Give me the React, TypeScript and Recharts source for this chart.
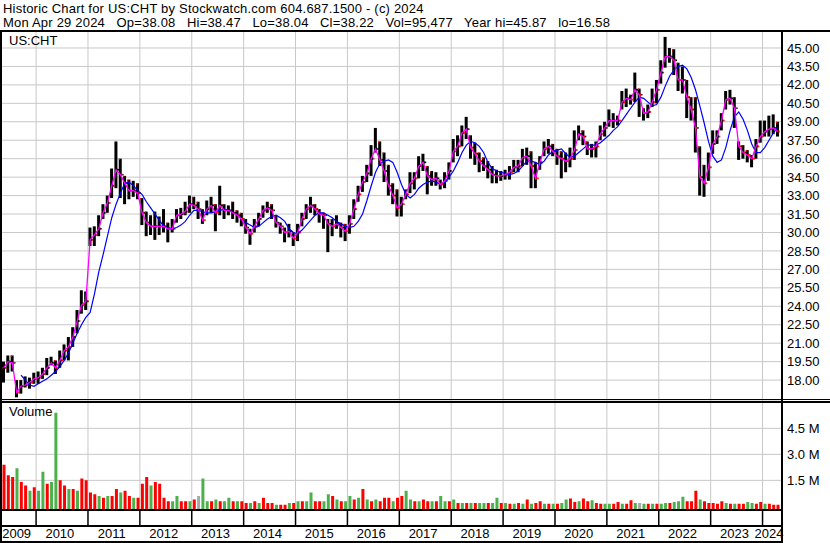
import { ComposedChart, Bar, Line, XAxis, YAxis, CartesianGrid, Cell } from "recharts";

// one bar per month, May 2009 .. Apr 2024
const years = [2009, 2010, 2011, 2012, 2013, 2014, 2015, 2016, 2017, 2018, 2019, 2020, 2021, 2022, 2023, 2024];
const yearStarts = [8, 20, 32, 44, 56, 68, 80, 92, 104, 116, 128, 140, 152, 164, 176];
const yearLabelAt = [3.5, 13.5, 25.5, 37.5, 49.5, 61.5, 73.5, 85.5, 97.5, 109.5, 121.5, 133.5, 145.5, 157.5, 169.5, 177.5];
const priceTicks = [18, 19.5, 21, 22.5, 24, 25.5, 27, 28.5, 30, 31.5, 33, 34.5, 36, 37.5, 39, 40.5, 42, 43.5, 45];
const volTicks = [1.5, 3, 4.5];

const high = [
  19.5, 20.0, 20.0, 18.0, 18.0, 18.3, 18.2, 18.6,
  18.7, 19.0, 19.8, 19.9, 19.6, 20.4, 20.9, 21.5, 22.3, 23.7, 25.3, 25.2,
  30.4, 30.5, 31.4, 32.3, 33.0, 35.2, 37.4, 36.0, 34.6, 34.3, 34.2, 34.0,
  32.8, 31.7, 31.4, 31.7, 31.3, 31.9, 30.8, 31.1, 31.9, 32.0, 32.5, 33.0,
  32.9, 32.5, 31.9, 32.6, 32.9, 32.3, 33.8, 32.3, 32.2, 32.5, 31.8, 31.6,
  31.1, 30.3, 31.1, 31.6, 32.2, 32.5, 32.3, 31.4, 30.8, 30.4, 30.7, 30.0,
  30.7, 31.6, 32.3, 32.9, 32.3, 31.9, 31.6, 31.1, 31.1, 31.4, 30.8, 30.7,
  31.4, 32.7, 33.8, 34.6, 35.5, 37.1, 38.5, 37.4, 36.5, 35.5, 34.0, 33.5,
  32.9, 33.5, 34.9, 34.9, 36.2, 36.4, 35.4, 35.0, 34.9, 34.3, 34.9, 35.7,
  37.6, 37.9, 38.7, 39.4, 37.9, 37.3, 36.5, 36.1, 35.8, 35.4, 35.1, 35.0,
  35.1, 35.4, 35.9, 35.9, 36.8, 36.9, 36.6, 35.7, 36.2, 37.4, 37.6, 37.2,
  36.8, 36.6, 36.5, 36.9, 38.3, 38.7, 38.3, 37.4, 37.2, 37.4, 38.7, 39.0,
  40.0, 39.7, 39.5, 41.5, 41.7, 41.2, 43.0, 41.7, 40.1, 40.4, 41.7, 42.4,
  44.0, 45.9, 45.0, 44.9, 43.8, 43.5, 42.4, 41.0, 41.0, 37.0, 35.5, 36.5,
  38.3, 38.3, 39.7, 41.5, 41.6, 41.0, 37.4, 37.1, 36.7, 36.3, 37.6, 39.1,
  39.1, 39.5, 39.6, 39.0,
];

const low = [
  17.8, 18.6, 18.7, 16.6, 16.9, 17.4, 17.3, 17.7,
  17.7, 18.1, 18.4, 19.2, 18.5, 19.0, 19.6, 19.6, 20.7, 21.8, 23.4, 23.7,
  28.9, 28.9, 29.7, 31.1, 31.6, 32.8, 33.6, 32.8, 32.3, 32.7, 32.9, 32.7,
  30.6, 29.7, 29.8, 29.4, 29.8, 30.0, 29.2, 30.0, 30.8, 31.1, 31.4, 31.6,
  31.9, 31.1, 30.7, 31.4, 31.6, 30.1, 31.4, 31.1, 31.4, 31.1, 30.8, 30.5,
  29.9, 29.0, 30.0, 30.5, 31.2, 31.6, 31.1, 30.4, 29.9, 29.2, 29.6, 28.9,
  29.3, 30.5, 31.1, 31.6, 31.4, 30.8, 30.3, 28.4, 29.7, 30.3, 29.6, 29.3,
  29.9, 31.1, 32.5, 33.3, 34.1, 34.6, 36.5, 35.4, 34.1, 33.0, 32.3, 31.3,
  31.3, 32.7, 33.2, 33.5, 34.4, 35.0, 33.1, 33.8, 33.8, 33.5, 33.6, 34.3,
  35.7, 36.2, 37.0, 37.6, 36.0, 35.5, 34.9, 35.0, 34.4, 34.0, 34.0, 34.2,
  34.3, 34.3, 34.9, 34.9, 35.4, 35.5, 33.6, 33.6, 35.1, 36.2, 36.4, 36.2,
  35.5, 34.4, 34.9, 35.3, 35.9, 37.5, 37.1, 36.3, 36.1, 36.1, 37.5, 37.8,
  38.6, 38.5, 38.7, 40.0, 40.2, 40.4, 40.6, 39.4, 39.1, 39.3, 40.2, 40.5,
  42.1, 43.4, 43.8, 42.8, 41.5, 41.3, 39.3, 39.1, 36.5, 33.0, 32.9, 34.2,
  36.4, 37.2, 38.3, 40.0, 40.4, 38.5, 35.9, 36.0, 35.7, 35.3, 36.0, 37.3,
  37.8, 37.8, 38.0, 37.8,
];

// monthly close, follows the magenta short average
const close = [
  19.0, 19.5, 19.4, 17.0, 17.5, 17.6, 17.8, 18.1,
  18.2, 18.5, 19.0, 19.4, 19.0, 19.6, 20.4, 20.7, 21.5, 22.8, 24.1, 24.4,
  29.4, 29.8, 30.3, 31.6, 32.4, 33.8, 35.1, 34.7, 34.0, 33.4, 33.4, 33.2,
  31.6, 30.8, 30.5, 30.5, 30.5, 30.5, 30.3, 30.3, 31.4, 31.5, 31.7, 32.3,
  32.2, 31.9, 31.0, 31.9, 32.2, 31.6, 32.2, 31.8, 31.8, 31.6, 31.4, 31.1,
  30.4, 29.9, 30.5, 31.1, 31.8, 32.0, 31.8, 30.8, 30.5, 30.0, 30.1, 29.5,
  30.0, 31.1, 31.9, 32.2, 31.9, 31.5, 31.4, 30.7, 30.5, 30.7, 30.4, 30.1,
  30.7, 31.9, 33.1, 34.1, 34.8, 36.0, 36.8, 35.9, 35.0, 33.8, 33.0, 32.0,
  32.3, 33.1, 34.0, 34.4, 35.4, 35.7, 34.6, 34.3, 34.4, 33.9, 34.2, 35.0,
  36.6, 37.0, 38.1, 38.4, 36.9, 36.4, 35.8, 35.4, 35.1, 34.7, 34.6, 34.6,
  34.7, 34.9, 35.3, 35.4, 36.1, 36.2, 35.4, 34.4, 35.7, 36.8, 37.0, 36.6,
  36.2, 36.0, 35.8, 36.0, 36.7, 38.0, 37.8, 36.8, 36.8, 37.0, 38.0, 38.5,
  39.1, 39.1, 39.1, 40.6, 40.9, 40.8, 41.6, 41.2, 39.7, 39.8, 40.6, 41.6,
  43.0, 44.3, 44.3, 44.0, 42.4, 42.4, 41.0, 40.0, 38.5, 34.5, 34.0, 35.3,
  37.2, 37.8, 39.1, 40.8, 40.9, 40.1, 37.0, 36.5, 36.3, 36.0, 37.0, 37.8,
  38.2, 38.4, 38.5, 38.2,
];

// blue long average
const longAvg = [
  null, null, null, null, 18.4, 18.0, 17.6, 17.5,
  17.7, 17.9, 18.1, 18.4, 18.7, 19.1, 19.6, 20.2, 21.0, 21.8, 22.5, 23.1,
  23.5, 25.0, 26.8, 28.2, 29.7, 31.2, 32.3, 33.2, 34.0, 34.1, 33.8, 33.4,
  33.1, 32.5, 32.0, 31.5, 31.0, 30.5, 30.4, 30.3, 30.4, 30.6, 30.9, 31.4,
  31.8, 31.8, 31.7, 31.6, 31.6, 31.7, 31.8, 31.9, 31.8, 31.6, 31.5, 31.1,
  30.8, 30.6, 30.4, 30.5, 30.8, 31.1, 31.3, 31.4, 31.2, 30.9, 30.3, 30.0,
  29.9, 30.2, 30.6, 31.0, 31.4, 31.6, 31.6, 31.4, 31.2, 30.9, 30.7, 30.5,
  30.4, 30.5, 30.9, 31.5, 32.6, 33.8, 34.9, 35.6, 35.8, 35.9, 35.7, 34.9,
  33.9, 33.1, 32.8, 33.1, 33.6, 33.9, 34.1, 34.2, 34.1, 33.9, 34.1, 34.5,
  35.0, 35.7, 36.5, 37.1, 37.4, 37.3, 37.0, 36.5, 35.7, 35.2, 35.0, 34.9,
  34.8, 34.7, 34.8, 35.0, 35.4, 35.8, 35.8, 35.7, 35.5, 35.8, 36.3, 36.6,
  36.7, 36.8, 36.4, 36.1, 36.2, 36.5, 36.8, 37.1, 37.1, 37.1, 37.3, 37.6,
  37.9, 38.3, 38.6, 39.1, 39.6, 40.1, 40.6, 41.0, 40.9, 40.6, 40.3, 40.4,
  41.0, 41.9, 42.7, 43.2, 43.5, 43.6, 43.3, 42.6, 41.6, 40.3, 38.9, 37.4,
  36.2, 35.7, 35.9, 36.9, 38.3, 39.4, 39.8, 39.2, 38.3, 37.2, 36.5, 36.5,
  36.9, 37.5, 38.1, 38.5,
];

// millions of shares
const volume = [
  2.4, 1.8, 1.7, 2.2, 1.4, 1.2, 0.9, 1.1,
  0.9, 2.0, 1.3, 1.4, 5.4, 1.5, 1.2, 1.0, 1.0, 0.9, 1.6, 1.5,
  0.8, 0.7, 0.6, 0.5, 0.6, 0.6, 1.0, 0.8, 0.9, 0.6, 0.5, 0.5,
  1.3, 1.7, 1.2, 1.4, 1.3, 0.5, 0.3, 0.3, 0.6, 0.3, 0.3, 0.3,
  0.4, 0.6, 1.6, 0.3, 0.3, 0.4, 0.3, 0.3, 0.5, 0.3, 0.3, 0.3,
  0.2, 0.2, 0.3, 0.2, 0.5, 0.2, 0.2, 0.1, 0.1, 0.1, 0.2, 0.2,
  0.3, 0.3, 0.3, 0.8, 0.3, 0.3, 0.3, 0.7, 0.6, 0.4, 0.3, 0.3,
  0.6, 0.4, 0.5, 1.0, 0.4, 0.3, 0.4, 0.3, 0.5, 0.5, 0.3, 0.5,
  0.6, 0.9, 0.4, 0.3, 0.3, 0.4, 0.3, 0.3, 0.3, 0.6, 0.3, 0.3,
  0.4, 0.2, 0.2, 0.2, 0.2, 0.2, 0.2, 0.2, 0.2, 0.2, 0.5, 0.2,
  0.2, 0.15, 0.15, 0.2, 0.15, 0.4, 0.15, 0.2, 0.3, 0.15, 0.15, 0.15,
  0.15, 0.2, 0.4, 0.45, 0.25, 0.3, 0.45, 0.3, 0.35, 0.2, 0.15, 0.15,
  0.15, 0.15, 0.25, 0.15, 0.15, 0.35, 0.2, 0.2, 0.15, 0.15, 0.15, 0.15,
  0.15, 0.2, 0.2, 0.25, 0.3, 0.55, 0.3, 0.3, 0.9, 0.4, 0.3, 0.2,
  0.2, 0.15, 0.3, 0.2, 0.15, 0.15, 0.15, 0.15, 0.25, 0.2, 0.15, 0.25,
  0.15, 0.15, 0.1, 0.1,
];

// g = up, r = down, n = unchanged
const volDir = [
  "rrrgrrgr", "ggrggrrgrgrr", "rrgrgrrgrrgr", "rrgrrrrggrrg", "rnggrgrggrgr",
  "rgrgrrrgrrgr", "grggrrggrgrg", "grgrgrgrrrgr", "rggrgrrgrggr", "grgrgrggrggr",
  "grgrgrgrrgrg", "rggrrgrrgrrg", "grrgrrgngrgr", "ggrgggrrrgrr", "rrrgrgrrggrr", "grrr",
].join("");

const volColors: Record<string, string> = { g: "#4cb04c", r: "#ff0000", n: "#a8a8a8" };

const volBase = -0.21;
const font = "'Liberation Sans', Arial, sans-serif";

const data = high.map((h, i) => ({
  t: i + 0.5,
  range: [low[i], h],
  hi: h,
  lo: low[i],
  open: i === 0 ? close[0] : close[i - 1],
  close: close[i],
  avg: longAvg[i],
  vol: [volBase, volume[i]],
  dir: volDir[i],
}));

const OhlcBar = (props: any) => {
  const { x, y, width, height, payload } = props;
  if (x == null || y == null || height == null) return null;
  const top = Math.min(y, y + height);
  const h = Math.max(Math.abs(height), 1);
  const span = payload.hi - payload.lo || 1;
  const yAt = (v: number) => top + ((payload.hi - v) / span) * h;
  const cx = x + width / 2;
  const down = payload.close < payload.open;
  return (
    <g>
      <rect x={cx - 1.5} y={top} width={3} height={h} fill="#000" />
      <rect x={cx - 2.2} y={yAt(payload.open) - 0.8} width={1.2} height={1.6} fill={down ? "#000" : "#ff0000"} />
      <rect x={cx + 0.6} y={yAt(payload.close) - 1} width={1.6} height={2} fill={down ? "#ff0000" : "#000"} />
      {down && <rect x={cx - 1.5} y={top} width={1.2} height={1.4} fill="#ff0000" />}
    </g>
  );
};

const tickStyle = { fontSize: 13, fill: "#000", fontFamily: font };

const line = (left: number, top: number, width: number, height: number) => (
  <div style={{ position: "absolute", left, top, width, height, background: "#000" }} />
);

const headerStyle = {
  position: "absolute" as const,
  left: 3,
  fontSize: 13,
  lineHeight: "15px",
  whiteSpace: "pre" as const,
  letterSpacing: "0.2px",
};

export default function App() {
  return (
    <div style={{ position: "fixed", left: 0, top: 0, width: 830, height: 543, background: "#fff", overflow: "hidden", fontFamily: font, color: "#000" }}>
      <div style={{ ...headerStyle, top: 1 }}>Historic Chart for US:CHT by Stockwatch.com 604.687.1500 - (c) 2024</div>
      <div style={{ ...headerStyle, top: 15 }}>
        {"Mon Apr 29 2024   Op=38.08   Hi=38.47   Lo=38.04   Cl=38.22   Vol=95,477   Year hi=45.87   lo=16.58"}
      </div>

      {/* price panel */}
      <div style={{ position: "absolute", left: 0, top: 31 }}>
        <ComposedChart width={830} height={370} data={data} margin={{ top: 0, right: 0, bottom: 0, left: 1.5 }}>
          <CartesianGrid stroke="#c8c8c8" strokeWidth={1} />
          <XAxis dataKey="t" type="number" domain={[0, 180.5]} ticks={yearStarts} hide allowDataOverflow />
          <YAxis
            orientation="right"
            width={48}
            domain={[16.3, 46.38]}
            ticks={priceTicks}
            interval={0}
            allowDataOverflow
            tickFormatter={(v: number) => v.toFixed(2)}
            tick={tickStyle}
            axisLine={false}
            tickLine={false}
            tickSize={0}
            tickMargin={5}
          />
          <Bar dataKey="range" barSize={4} shape={OhlcBar} isAnimationActive={false} />
          <Line dataKey="avg" stroke="#0000ff" strokeWidth={1.2} dot={false} type="linear" isAnimationActive={false} />
          <Line dataKey="close" stroke="#ff00ff" strokeWidth={1.3} dot={false} type="linear" isAnimationActive={false} />
        </ComposedChart>
      </div>

      {/* volume panel + date rows */}
      <div style={{ position: "absolute", left: 0, top: 402 }}>
        <ComposedChart width={830} height={141} data={data} margin={{ top: 0, right: 0, bottom: 0, left: 1.5 }}>
          <CartesianGrid stroke="#c8c8c8" strokeWidth={1} />
          <XAxis
            dataKey="t"
            type="number"
            domain={[0, 180.5]}
            ticks={yearStarts}
            interval={0}
            height={16}
            tickSize={16}
            tickLine={{ stroke: "#000", strokeWidth: 1.5 }}
            tickFormatter={() => ""}
            axisLine={{ stroke: "#000", strokeWidth: 2 }}
            allowDataOverflow
          />
          <XAxis
            xAxisId="yr"
            dataKey="t"
            type="number"
            domain={[0, 180.5]}
            ticks={yearLabelAt}
            interval={0}
            height={17}
            tickSize={0}
            tickMargin={3}
            tickLine={false}
            tick={tickStyle}
            tickFormatter={(_v: number, idx: number) => String(years[idx])}
            axisLine={{ stroke: "#000", strokeWidth: 2 }}
            allowDataOverflow
          />
          <YAxis
            orientation="right"
            width={48}
            domain={[volBase, 6.02]}
            ticks={volTicks}
            interval={0}
            allowDataOverflow
            tickFormatter={(v: number) => v.toFixed(1) + " M"}
            tick={tickStyle}
            axisLine={false}
            tickLine={false}
            tickSize={0}
            tickMargin={5}
          />
          <Bar dataKey="vol" barSize={3} isAnimationActive={false}>
            {data.map((d, i) => (
              <Cell key={i} fill={volColors[d.dir]} />
            ))}
          </Bar>
        </ComposedChart>
      </div>

      <div style={{ position: "absolute", left: 9, top: 33, fontSize: 13, lineHeight: "15px" }}>US:CHT</div>
      <div style={{ position: "absolute", left: 9, top: 404, fontSize: 13, lineHeight: "15px" }}>Volume</div>

      {/* frame */}
      {line(0, 30, 830, 2)}
      {line(0, 30, 2, 513)}
      {line(781, 30, 2, 513)}
      {line(0, 399, 830, 1)}
      {line(0, 401, 830, 1.5)}
      {line(0, 541, 782, 2)}
    </div>
  );
}
